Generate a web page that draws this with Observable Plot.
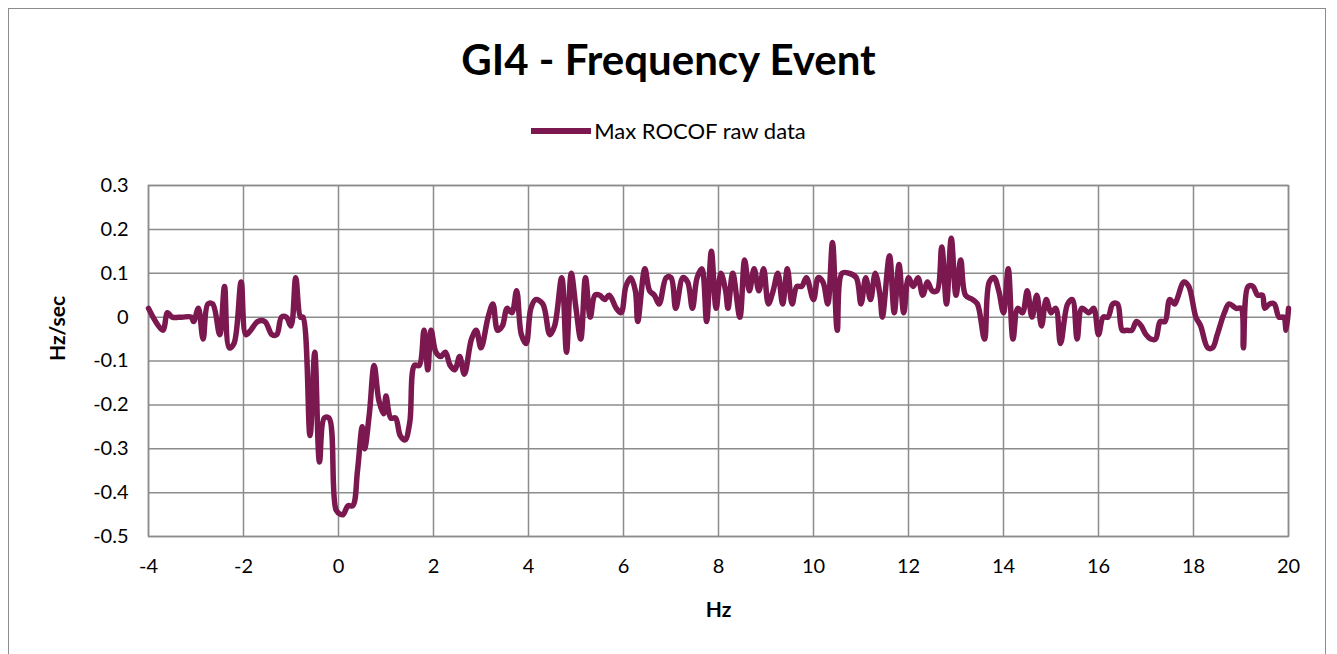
<!DOCTYPE html>
<html>
<head>
<meta charset="utf-8">
<script src="https://cdn.jsdelivr.net/npm/d3@7"></script>
<script src="https://cdn.jsdelivr.net/npm/@observablehq/plot@0.6"></script>
<style>
  body { margin: 0; background: #fff; font-family: Lato, "Open Sans", sans-serif; }
  #frame { position: absolute; left: 8px; top: 8px; width: 1318px; height: 660px; border: 1px solid #8c8c8c; box-sizing: border-box; }
  #title { position: absolute; left: 0; width: 1337px; top: 34px; text-align: center; font-weight: bold; font-size: 42px; color: #000; }
  #legend { position: absolute; left: 0; width: 1337px; top: 117px; text-align: center; font-size: 22px; color: #000; }
  #legend .sw { display: inline-block; width: 60px; height: 6px; background: #7b1850; vertical-align: middle; margin-right: 3px; position: relative; top: -2px; }
  #chart { position: absolute; left: 0; top: 160px; }
</style>
</head>
<body>
<div id="frame"></div>
<div id="title">GI4 - Frequency Event</div>
<div id="legend"><span class="sw"></span>Max ROCOF raw data</div>
<div id="chart"></div>
<script>
const hz = [-4,-3.7,-3.6,-3.5,-3.3,-3.1,-3.05,-2.95,-2.85,-2.75,-2.65,-2.5,-2.4,-2.3,-2.2,-2.05,-1.95,-1.85,-1.7,-1.55,-1.4,-1.3,-1.2,-1.1,-1.0,-0.9,-0.8,-0.75,-0.6,-0.5,-0.4,-0.3,-0.2,-0.05,0.05,0.1,0.2,0.3,0.4,0.5,0.55,0.65,0.75,0.85,0.95,1.0,1.1,1.2,1.3,1.4,1.5,1.6,1.7,1.8,1.88,1.95,2.05,2.15,2.25,2.35,2.45,2.55,2.65,2.8,2.9,3.0,3.15,3.25,3.35,3.45,3.55,3.65,3.75,3.85,3.95,4.05,4.15,4.3,4.45,4.55,4.7,4.8,4.9,5.0,5.1,5.2,5.3,5.4,5.5,5.6,5.7,5.85,5.95,6.05,6.15,6.25,6.3,6.45,6.55,6.65,6.75,6.9,7.0,7.1,7.25,7.35,7.45,7.55,7.65,7.75,7.85,7.95,8.05,8.15,8.2,8.3,8.45,8.55,8.65,8.75,8.85,8.95,9.05,9.15,9.25,9.35,9.45,9.55,9.65,9.75,9.85,10.0,10.1,10.2,10.3,10.4,10.5,10.6,10.75,10.9,11.0,11.1,11.2,11.3,11.4,11.45,11.6,11.7,11.8,11.9,12.0,12.1,12.2,12.3,12.4,12.5,12.6,12.7,12.8,12.9,13.0,13.1,13.2,13.35,13.45,13.6,13.7,13.8,13.9,14.0,14.1,14.2,14.3,14.4,14.5,14.6,14.7,14.8,14.9,15.0,15.1,15.2,15.35,15.45,15.55,15.65,15.8,15.9,16.0,16.1,16.2,16.3,16.4,16.5,16.6,16.7,16.8,16.9,17.0,17.1,17.2,17.3,17.4,17.5,17.6,17.65,17.8,17.9,18.05,18.15,18.3,18.4,18.5,18.65,18.75,18.9,19.0,19.05,19.15,19.25,19.35,19.45,19.5,19.6,19.7,19.8,19.9,19.95,20.0];
const rocof = [0.02,-0.03,0.01,0,0,0,-0.01,0.02,-0.05,0.03,0.03,-0.04,0.07,-0.07,-0.06,0.08,-0.04,-0.03,-0.01,-0.01,-0.04,-0.04,0,0,-0.02,0.09,0.0,0.0,-0.27,-0.08,-0.33,-0.23,-0.23,-0.44,-0.45,-0.45,-0.43,-0.43,-0.35,-0.25,-0.30,-0.22,-0.11,-0.19,-0.22,-0.18,-0.23,-0.23,-0.27,-0.28,-0.24,-0.11,-0.11,-0.03,-0.12,-0.03,-0.08,-0.09,-0.08,-0.11,-0.12,-0.09,-0.13,-0.05,-0.03,-0.07,0.0,0.03,-0.03,-0.02,0.02,0.01,0.06,-0.04,-0.06,0.02,0.04,0.03,-0.04,-0.02,0.09,-0.08,0.10,0.02,-0.05,0.09,0.0,0.05,0.05,0.04,0.05,0.02,0.01,0.07,0.09,0.06,-0.01,0.11,0.06,0.05,0.03,0.09,0.09,0.02,0.09,0.08,0.02,0.09,0.11,-0.01,0.15,0.02,0.10,0.06,0.02,0.10,0.0,0.13,0.06,0.11,0.06,0.11,0.03,0.06,0.10,0.03,0.11,0.03,0.07,0.07,0.09,0.04,0.09,0.08,0.03,0.17,-0.03,0.10,0.10,0.09,0.03,0.09,0.04,0.10,0.05,0.0,0.14,0.01,0.12,0.01,0.09,0.07,0.09,0.05,0.08,0.06,0.06,0.16,0.03,0.18,0.05,0.13,0.05,0.04,0.03,-0.05,0.08,0.09,0.06,0.01,0.11,-0.05,0.02,0.01,0.06,0.0,0.05,-0.02,0.04,0.01,0.02,-0.06,0.03,0.04,-0.05,0.02,0.01,0.02,-0.04,0.0,0.0,0.03,0.03,-0.03,-0.03,-0.03,-0.01,-0.02,-0.04,-0.05,-0.05,-0.01,-0.01,0.04,0.03,0.04,0.08,0.07,0.0,-0.02,-0.07,-0.07,-0.04,0.01,0.03,0.02,0.02,-0.07,0.07,0.07,0.05,0.05,0.02,0.03,0.03,0.0,0.0,-0.03,0.02];
const xTicks = [-4,-2,0,2,4,6,8,10,12,14,16,18,20];
const yTicks = [-0.5,-0.4,-0.3,-0.2,-0.1,0,0.1,0.2,0.3];

const data = hz.map((x, i) => ({x, y: rocof[i]}));

const chart = Plot.plot({
  width: 1337,
  height: 470,
  marginLeft: 148,
  marginRight: 49,
  marginTop: 25,
  marginBottom: 94,
  style: { fontFamily: "Lato, 'Open Sans', sans-serif", fontSize: "20px", color: "#000", background: "transparent" },
  x: { domain: [-4, 20], ticks: xTicks },
  y: { domain: [-0.5, 0.3], ticks: yTicks },
  marks: [
    Plot.gridX(xTicks, { stroke: "#8c8c8c", strokeOpacity: 1, strokeWidth: 1.5 }),
    Plot.gridY(yTicks, { stroke: "#8c8c8c", strokeOpacity: 1, strokeWidth: 1.5 }),
    Plot.frame({ stroke: "#8c8c8c", strokeWidth: 1.5 }),
    Plot.axisX(xTicks, { tickSize: 0, tickPadding: 22, fontSize: 20, label: null, tickFormat: d => String(d) }),
    Plot.axisY(yTicks, { tickSize: 0, tickPadding: 20, fontSize: 20, label: null, tickFormat: d => String(d) }),
    Plot.text(["Hz"], { frameAnchor: "bottom", dy: 80, fontWeight: "bold", fontSize: 21 }),
    Plot.text(["Hz/sec"], { frameAnchor: "left", dx: -90, rotate: -90, fontWeight: "bold", fontSize: 21 }),
    Plot.line(data, { x: "x", y: "y", stroke: "#7b1850", strokeWidth: 5.5, curve: "catmull-rom" })
  ]
});
document.getElementById("chart").appendChild(chart);
</script>
</body>
</html>
